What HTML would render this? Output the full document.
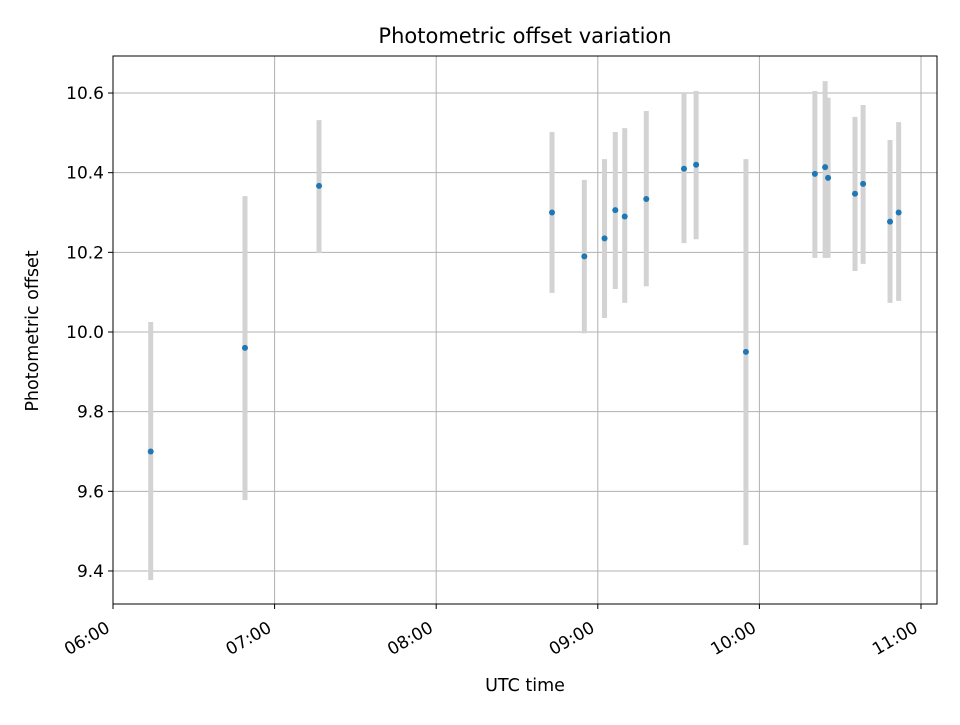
<!DOCTYPE html>
<html><head><meta charset="utf-8"><style>
body{margin:0;background:#fff;}
svg text{font-family:"DejaVu Sans","Liberation Sans",sans-serif;fill:#000;}
</style></head><body>
<svg id="chart" width="960" height="720" viewBox="0 0 960 720" xmlns="http://www.w3.org/2000/svg">
<rect width="960" height="720" fill="#fff"/>
<g id="grid"></g>
<g id="bars"></g>
<g id="points"></g>
<rect x="113" y="56" width="824" height="548" fill="none" stroke="#000" stroke-width="1"/>
<g id="axes"></g>
<text x="525" y="43" font-size="21" text-anchor="middle">Photometric offset variation</text>
<text x="525" y="691" font-size="17.5" text-anchor="middle">UTC time</text>
<text x="38" y="331" font-size="17.5" text-anchor="middle" transform="rotate(-90 38 331)">Photometric offset</text>
</svg>
<script>
const minutes=[14,49,76.5,163,175,182.5,186.5,190,198,212,216.5,235,260.6,264.4,265.5,275.5,278.5,288.5,291.7];
const values=[9.70,9.96,10.367,10.30,10.19,10.235,10.306,10.29,10.334,10.41,10.42,9.95,10.397,10.414,10.387,10.347,10.372,10.277,10.30];
const upper=[10.025,10.341,10.532,10.502,10.382,10.434,10.502,10.512,10.555,10.598,10.605,10.434,10.605,10.630,10.588,10.540,10.570,10.482,10.527];
const lower=[9.377,9.578,10.198,10.098,9.997,10.035,10.108,10.073,10.115,10.223,10.233,9.465,10.186,10.186,10.186,10.153,10.171,10.073,10.078];
const xTickMinutes=[0,60,120,180,240,300];
const xTickLabels=["06:00","07:00","08:00","09:00","10:00","11:00"];
const yTicks=[9.4,9.6,9.8,10.0,10.2,10.4,10.6];
const yTickLabels=["9.4","9.6","9.8","10.0","10.2","10.4","10.6"];
const NS="http://www.w3.org/2000/svg";
const L=113,R=937,T=56,B=604;
const x=m=>113+m*(161.6/60);
const y=v=>332-(v-10)*398.3;
function mk(t,a,p){const e=document.createElementNS(NS,t);for(const k in a)e.setAttribute(k,a[k]);p.appendChild(e);return e;}
const grid=document.getElementById('grid'),axes=document.getElementById('axes');
xTickMinutes.forEach((m,i)=>{const px=x(m);
const g=mk('line',{x1:px,x2:px,y1:T,y2:B,stroke:'#b0b0b0','stroke-width':1},grid);


const tk=mk('line',{x1:px,x2:px,y1:B,y2:B+5,stroke:'#000'},axes);


const ax=px-2,ay=B+27;
const t=mk('text',{x:ax,y:ay,'font-size':17,'text-anchor':'end',transform:`rotate(-30 ${ax} ${ay})`},axes);


t.textContent=xTickLabels[i];});
yTicks.forEach((v,i)=>{const py=y(v);
const g=mk('line',{x1:L,x2:R,y1:py,y2:py,stroke:'#b0b0b0','stroke-width':1},grid);


const tk=mk('line',{x1:L-5,x2:L,y1:py,y2:py,stroke:'#000'},axes);


const t=mk('text',{x:L-9,y:py+6,'font-size':17,'text-anchor':'end'},axes);


t.textContent=yTickLabels[i];});
const bars=document.getElementById('bars'),pts=document.getElementById('points');
minutes.forEach((m,i)=>{const px=x(m);
const b=mk('line',{x1:px,x2:px,y1:y(upper[i]),y2:y(lower[i]),stroke:'#d3d3d3','stroke-width':5},bars);


const c=mk('circle',{cx:px,cy:y(values[i]),r:3,fill:'#1f77b4'},pts);

});
</script>
</body></html>
